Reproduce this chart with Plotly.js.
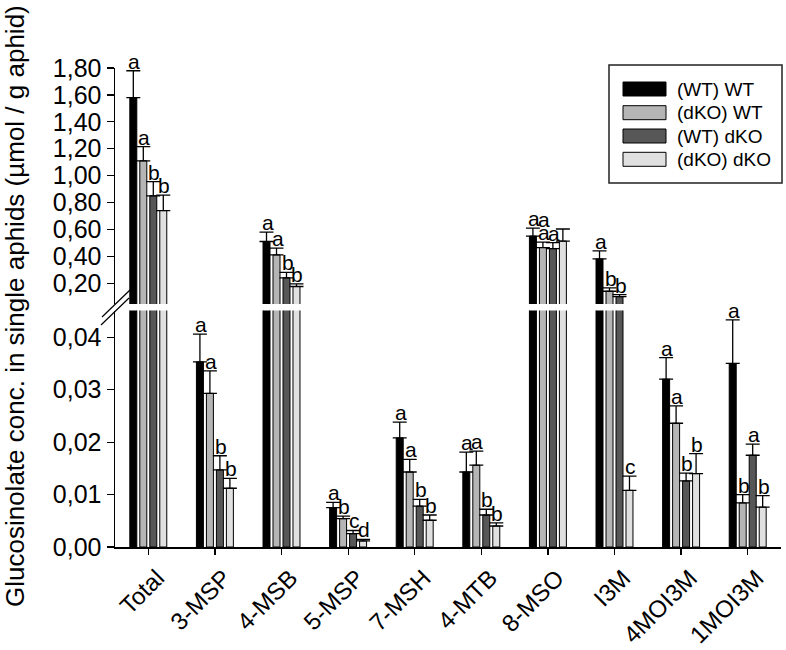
<!DOCTYPE html>
<html>
<head>
<meta charset="utf-8">
<script src="https://cdn.plot.ly/plotly-3.0.1.min.js"></script>
<style>html,body{margin:0;padding:0;background:#fff;}#chart{width:786px;height:650px;}</style>
</head>
<body>
<div id="chart"></div>
<script>
// ---- data ----
const categories = ['Total','3-MSP','4-MSB','5-MSP','7-MSH','4-MTB','8-MSO','I3M','4MOI3M','1MOI3M'];
const seriesNames = ['(WT) WT','(dKO) WT','(WT) dKO','(dKO) dKO'];

const wtwt      = [1.58, 0.0353, 0.51, 0.0075, 0.0208, 0.0143, 0.55, 0.38, 0.0320, 0.0350];
const wtwtErr   = [0.20, 0.0053, 0.07, 0.0010, 0.0030, 0.0038, 0.06, 0.06, 0.0041, 0.0083];
const wtwtLet   = ['a','a','a','a','a','a','a','a','a','a'];

const dkowt     = [1.11, 0.0293, 0.41, 0.0054, 0.0143, 0.0156, 0.465, 0.14, 0.0236, 0.0084];
const dkowtErr  = [0.105,0.0043, 0.05, 0.0005, 0.0024, 0.0027, 0.04,  0.025,0.0033, 0.0016];
const dkowtLet  = ['a','a','a','b','a','a','a','b','a','b'];

const wtdko     = [0.85, 0.0147, 0.24, 0.00255,0.0078, 0.0061, 0.457, 0.10, 0.0126, 0.0175];
const wtdkoErr  = [0.105,0.0027, 0.04, 0.0006, 0.0013, 0.0011, 0.045, 0.015,0.0015, 0.0021];
const wtdkoLet  = ['b','b','b','c','b','b','a','b','b','a'];

const dkodko    = [0.74, 0.0112, 0.175,0.00115,0.0051, 0.0040, 0.513, 0.0108,0.0140, 0.0076];
const dkodkoErr = [0.115,0.0019, 0.02, 0.0003, 0.0010, 0.0006, 0.09,  0.0027,0.0038, 0.0022];
const dkodkoLet = ['b','b','b','d','b','b','a','c','b','b'];

const yTicksUpper = [0.2,0.4,0.6,0.8,1.0,1.2,1.4,1.6,1.8];
const yTicksLower = [0.00,0.01,0.02,0.03,0.04];

// ---- style ----
const colors = ['#000000','#b5b5b5','#575757','#e0e0e0'];
const values = [wtwt, dkowt, wtdko, dkodko];
const errors = [wtwtErr, dkowtErr, wtdkoErr, dkodkoErr];
const letters = [wtwtLet, dkowtLet, wtdkoLet, dkodkoLet];
const FONT = 'Liberation Sans, Arial, Helvetica, sans-serif';

const W = 786, H = 650, ML = 115, MR = 5, MT = 68, MB = 103;
const PW = W - ML - MR, PH = H - MT - MB;
const px2x = p => (p - ML) / PW;
const py2y = p => (H - MB - p) / PH;

const lowerTop = 0.0451;
const upperBottom = 0.045;

const bargap = 0.4, bargroupgap = 0.3;
const slot = (1 - bargap) / 4;

const traces = [];
for (let k = 0; k < 4; k++) {
  ['y', 'y2'].forEach(ya => {
    // in the upper (broken) panel, only bars that reach it carry an error bar
    const err = ya === 'y2'
      ? errors[k].map((e, i) => values[k][i] > upperBottom ? e : null)
      : errors[k];
    traces.push({
      type: 'bar', x: categories, y: values[k], yaxis: ya, xaxis: 'x',
      name: seriesNames[k], showlegend: false,
      marker: {color: colors[k], line: {color: '#000', width: 1}},
      error_y: {type: 'data', symmetric: false, array: err,
                arrayminus: errors[k].map(() => 0), color: '#000', thickness: 1.3, width: 7},
      hoverinfo: 'skip'
    });
  });
}

// letter placement tweak (in bar slots) reproducing the reference's label crowding
const letterSlotShift = {'3-6': -2};

const annotations = [];
for (let k = 0; k < 4; k++) {
  for (let i = 0; i < categories.length; i++) {
    const top = values[k][i] + errors[k][i];
    const sh = letterSlotShift[k + '-' + i] || 0;
    annotations.push({
      x: i + (k - 1.5 + sh) * slot, y: top, xref: 'x', yref: top > lowerTop ? 'y2' : 'y',
      text: letters[k][i], showarrow: false, xanchor: 'center', yanchor: 'bottom',
      yshift: -4, xshift: 1, font: {family: FONT, size: 21, color: '#000'}
    });
  }
}
// y-axis title
annotations.push({
  xref: 'paper', yref: 'paper', x: px2x(15), y: py2y(306), textangle: -90,
  text: 'Glucosinolate conc. in single aphids (µmol / g aphid)', showarrow: false,
  xanchor: 'center', yanchor: 'middle', font: {family: FONT, size: 26, color: '#000'}
});

const shapes = [];
// legend box
const legRows = [89, 112.7, 136, 159.3];
shapes.push({type: 'rect', xref: 'paper', yref: 'paper', x0: px2x(609), x1: px2x(782),
  y0: py2y(183), y1: py2y(65), line: {color: '#222', width: 1.5}, fillcolor: '#fff'});
for (let k = 0; k < 4; k++) {
  shapes.push({type: 'rect', xref: 'paper', yref: 'paper', x0: px2x(623), x1: px2x(666),
    y0: py2y(legRows[k] + 7), y1: py2y(legRows[k] - 7), line: {color: '#000', width: 1},
    fillcolor: colors[k]});
  annotations.push({xref: 'paper', yref: 'paper', x: px2x(675), y: py2y(legRows[k]),
    text: seriesNames[k], showarrow: false, xanchor: 'left', yanchor: 'middle',
    font: {family: FONT, size: 19, color: '#000'}});
}
// axis break marks
shapes.push({type: 'line', xref: 'paper', yref: 'paper', x0: px2x(102), y0: py2y(317), x1: px2x(130), y1: py2y(290), line: {color: '#000', width: 1.2}});
shapes.push({type: 'line', xref: 'paper', yref: 'paper', x0: px2x(101), y0: py2y(325), x1: px2x(129), y1: py2y(298), line: {color: '#000', width: 1.2}});

const axisCommon = {showgrid: false, zeroline: false, showline: true, linecolor: '#000',
  linewidth: 1.5, ticks: 'outside', ticklen: 7, tickwidth: 1.2, tickcolor: '#000',
  tickfont: {family: FONT, size: 25, color: '#000'}, fixedrange: true};

const layout = {
  width: W, height: H, margin: {l: ML, r: MR, t: MT, b: MB, pad: 0},
  paper_bgcolor: '#fff', plot_bgcolor: 'rgba(0,0,0,0)',
  separators: ',.', barmode: 'group', bargap: bargap, bargroupgap: bargroupgap,
  showlegend: false, hovermode: false,
  xaxis: Object.assign({}, axisCommon, {type: 'category', range: [-0.5, 9.5], anchor: 'y',
    tickangle: -45, ticklen: 6, ticklabelshift: 9, tickfont: {family: FONT, size: 24, color: '#000'}}),
  yaxis: Object.assign({}, axisCommon, {domain: [0, py2y(310.5)], range: [0, lowerTop],
    tickvals: yTicksLower, tickformat: '.2f', anchor: 'x'}),
  yaxis2: Object.assign({}, axisCommon, {domain: [py2y(304), 1], range: [upperBottom, 1.8005],
    tickvals: yTicksUpper, tickformat: '.2f', anchor: 'x'}),
  annotations: annotations, shapes: shapes,
  font: {family: FONT, color: '#000'}
};

Plotly.newPlot('chart', traces, layout, {displayModeBar: false, staticPlot: true});
</script>
</body>
</html>
